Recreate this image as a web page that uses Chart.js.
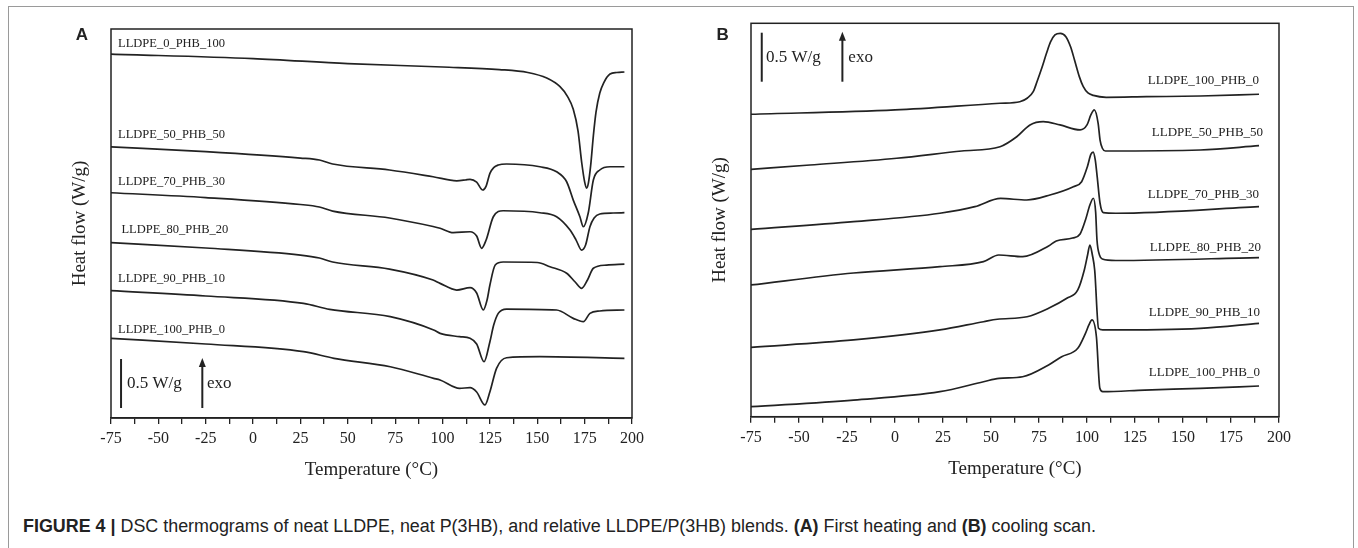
<!DOCTYPE html>
<html>
<head>
<meta charset="utf-8">
<script src="https://cdn.jsdelivr.net/npm/chart.js@4.4.0/dist/chart.umd.min.js"></script>
<style>
  body { margin:0; background:#fff; width:1358px; height:548px; overflow:hidden; position:relative; }
  #frame { position:absolute; left:8px; top:6px; width:1346px; height:600px; border:1px solid #9a9a9a; box-sizing:border-box; }
  #wrapA { position:absolute; left:0; top:0; width:680px; height:500px; }
  #wrapB { position:absolute; left:680px; top:0; width:678px; height:500px; }
  #caption { position:absolute; left:23px; top:516px; line-height:20px; font-family:"Liberation Sans", Arial, sans-serif;
             font-size:18px; color:#222; white-space:nowrap; transform-origin:0 50%; }
  #caption b { font-weight:bold; }
</style>
</head>
<body>
<div id="frame"></div>
<div id="wrapA"><canvas id="chartA" width="680" height="500"></canvas></div>
<div id="wrapB"><canvas id="chartB" width="678" height="500"></canvas></div>
<div id="caption"><b>FIGURE 4 |</b> DSC thermograms of neat LLDPE, neat P(3HB), and relative LLDPE/P(3HB) blends. <b>(A)</b> First heating and <b>(B)</b> cooling scan.</div>

<script>
// ---- panel A : first heating (temperature in C, heat flow in W/g, curves stacked) ----
var tempA_0_100 = [-75, 0, 50, 100, 130, 145, 155, 162, 166, 169, 171.5, 173.5, 175, 176, 177, 178.2, 179.6, 181, 183, 185, 188.4, 192, 196];
var flowA_0_100 = [3.714, 3.668, 3.617, 3.582, 3.556, 3.526, 3.469, 3.381, 3.28, 3.15, 2.93, 2.60, 2.41, 2.347, 2.40, 2.58, 2.88, 3.122, 3.316, 3.418, 3.510, 3.526, 3.531];

var tempA_50_50 = [-75, -25, 25, 35, 42, 72, 95, 107.5, 112, 114.5, 118, 121.2, 123, 125, 127, 129.4, 133.8, 151.4, 160.2, 165.5, 169, 172.5, 174.3, 176.9, 179.6, 183, 188.4, 196];
var flowA_50_50 = [2.768, 2.719, 2.653, 2.633, 2.592, 2.531, 2.462, 2.421, 2.429, 2.436, 2.408, 2.327, 2.367, 2.497, 2.556, 2.582, 2.592, 2.564, 2.513, 2.411, 2.224, 2.054, 1.952, 2.092, 2.429, 2.531, 2.564, 2.564];

var tempA_70_30 = [-75, -25, 25, 35, 42, 72, 95, 98.7, 105.7, 114.5, 118, 120.6, 123, 126.8, 132, 151.4, 160.2, 167.3, 170.5, 173.4, 175.5, 177.8, 180, 183, 190, 196];
var flowA_70_30 = [2.299, 2.250, 2.179, 2.153, 2.112, 2.041, 1.954, 1.936, 1.891, 1.901, 1.857, 1.732, 1.816, 2.054, 2.115, 2.095, 2.054, 1.918, 1.816, 1.714, 1.765, 1.952, 2.041, 2.082, 2.092, 2.095];

var tempA_80_20 = [-75, -25, 25, 35, 42, 72, 95, 98.7, 107.5, 114.5, 118, 121.5, 123.5, 125, 127.8, 132, 150, 156.7, 165.5, 170, 173.4, 176.5, 179.6, 186.6, 196];
var flowA_80_20 = [1.789, 1.735, 1.663, 1.633, 1.592, 1.520, 1.408, 1.374, 1.306, 1.330, 1.276, 1.102, 1.204, 1.357, 1.561, 1.592, 1.587, 1.544, 1.477, 1.388, 1.323, 1.408, 1.528, 1.561, 1.571];

var tempA_90_10 = [-75, -25, 26.6, 40.4, 72.4, 95.3, 98.7, 109, 114.5, 118, 121.9, 125, 127, 129.4, 133.8, 160.2, 169, 174.3, 177.8, 183, 196];
var flowA_90_10 = [1.299, 1.245, 1.170, 1.109, 1.034, 0.898, 0.864, 0.830, 0.813, 0.755, 0.574, 0.779, 0.949, 1.068, 1.112, 1.102, 1.017, 0.983, 1.068, 1.092, 1.102];

var tempA_100_0 = [-75, -25, 26.6, 42.7, 72.4, 95.3, 98.7, 109, 114.5, 118, 122.4, 125, 128.5, 133.8, 151.4, 196];
var flowA_100_0 = [0.813, 0.755, 0.677, 0.609, 0.523, 0.405, 0.388, 0.303, 0.309, 0.265, 0.133, 0.268, 0.507, 0.615, 0.626, 0.609];

// ---- panel B : cooling scan ----
var tempB_100_0top = [-75, 0, 54.7, 65, 69, 72, 74, 76.5, 78.9, 81, 83.3, 86.1, 89, 91.5, 93.5, 96, 98, 100.5, 103.3, 110, 131, 159, 189.6];
var flowB_100_0top = [3.086, 3.130, 3.198, 3.214, 3.252, 3.316, 3.42, 3.56, 3.708, 3.824, 3.895, 3.912, 3.878, 3.772, 3.640, 3.47, 3.37, 3.303, 3.278, 3.259, 3.265, 3.272, 3.290];

var tempB_50_50 = [-75, -44.3, 0.9, 34.8, 54.7, 63.4, 70.3, 77.2, 85.9, 96.4, 100, 102, 103.8, 105.8, 106.8, 108, 109.6, 159, 189.6];
var flowB_50_50 = [2.524, 2.568, 2.637, 2.711, 2.755, 2.857, 2.977, 3.010, 2.977, 2.926, 2.977, 3.079, 3.130, 2.994, 2.823, 2.739, 2.711, 2.721, 2.765];

var tempB_70_30 = [-75, -21.6, 23.4, 41.6, 55, 68.6, 80.7, 92.9, 97.2, 100.2, 102, 103.2, 104.3, 105.3, 106.8, 108.5, 115, 189.6];
var flowB_70_30 = [1.912, 1.990, 2.076, 2.143, 2.227, 2.211, 2.262, 2.347, 2.398, 2.551, 2.676, 2.70, 2.62, 2.45, 2.178, 2.082, 2.076, 2.143];

var tempB_80_20 = [-75, -21.6, 23.4, 46.1, 54, 66.5, 80, 84, 92.5, 96.4, 99.2, 101.5, 103.3, 104.5, 105.2, 106.5, 108, 115, 189.6];
var flowB_80_20 = [1.344, 1.466, 1.531, 1.582, 1.650, 1.633, 1.742, 1.793, 1.823, 1.864, 2.007, 2.160, 2.229, 2.089, 1.803, 1.650, 1.609, 1.594, 1.624];

var tempB_90_10 = [-75, -21.6, 23.4, 46.1, 53.3, 68.8, 80, 89.5, 95.2, 98.6, 100.3, 101.5, 102.8, 104, 106, 108.2, 159, 189.6];
var flowB_90_10 = [0.708, 0.783, 0.885, 0.969, 0.994, 1.020, 1.106, 1.208, 1.293, 1.497, 1.650, 1.752, 1.650, 1.497, 0.902, 0.885, 0.902, 0.953];

var tempB_100_0 = [-75, -21.6, 23.4, 46.1, 54.2, 66.5, 80, 86.8, 95.2, 99.2, 101, 102.6, 104.9, 106.7, 108.2, 130, 159, 189.6];
var flowB_100_0 = [0.102, 0.170, 0.255, 0.357, 0.392, 0.408, 0.528, 0.612, 0.698, 0.851, 0.936, 0.987, 0.816, 0.290, 0.255, 0.272, 0.290, 0.313];

// x axis ticks
var tickMin = -75, tickMax = 200, tickStep = 12.5, labelStep = 25;

// curve names, placed as in the figure (temperature, heat flow)
var labelsA = [
  ["LLDPE_0_PHB_100", -71.3, 3.823],
  ["LLDPE_50_PHB_50", -71.3, 2.888],
  ["LLDPE_70_PHB_30", -71.3, 2.411],
  ["LLDPE_80_PHB_20", -69.5, 1.918],
  ["LLDPE_90_PHB_10", -71.3, 1.426],
  ["LLDPE_100_PHB_0", -71.3, 0.905]
];
var labelsB = [
  ["LLDPE_100_PHB_0", 189.6, 3.426],
  ["LLDPE_50_PHB_50", 191.7, 2.902],
  ["LLDPE_70_PHB_30", 189.6, 2.269],
  ["LLDPE_80_PHB_20", 190.6, 1.724],
  ["LLDPE_90_PHB_10", 190.1, 1.065],
  ["LLDPE_100_PHB_0", 190.1, 0.449]
];

var INK = '#222';
var SERIF = '"Liberation Serif", "Times New Roman", serif';

function toPoints(t, v){
  var out = [];
  for (var i = 0; i < t.length; i++) out.push({x: t[i], y: v[i]});
  return out;
}

function curve(t, v){
  return {
    data: toPoints(t, v),
    borderColor: INK,
    borderWidth: 1.7,
    pointRadius: 0,
    fill: false,
    cubicInterpolationMode: 'monotone'
  };
}

// box, titles, curve names, scale bar and exo arrow
var decoPlugin = {
  id: 'deco',
  afterDraw: function(chart, args, o){
    var ctx = chart.ctx, a = chart.chartArea, x = chart.scales.x, y = chart.scales.y;
    ctx.save();
    ctx.strokeStyle = INK;
    ctx.lineWidth = 1.5;
    ctx.strokeRect(a.left, a.top, a.right - a.left, a.bottom - a.top);

    ctx.fillStyle = INK;
    ctx.textBaseline = 'middle';

    // panel letter
    ctx.font = 'bold 17px "Liberation Sans", Arial, sans-serif';
    ctx.textAlign = 'center';
    ctx.fillText(o.letter, o.letterX, o.letterY);

    // axis titles
    ctx.font = '19px ' + SERIF;
    ctx.fillText('Temperature (\u00B0C)', (a.left + a.right) / 2, a.bottom + 52);
    ctx.save();
    ctx.translate(a.left - 31, (a.top + a.bottom) / 2);
    ctx.rotate(-Math.PI / 2);
    ctx.fillText('Heat flow (W/g)', 0, 0);
    ctx.restore();

    // curve names
    ctx.font = o.labelSize + 'px ' + SERIF;
    ctx.textAlign = o.labelAlign;
    o.labels.forEach(function(l){
      ctx.fillText(l[0], x.getPixelForValue(l[1]), y.getPixelForValue(l[2]));
    });

    // 0.5 W/g bar
    var s = o.bar;
    var yTop = y.getPixelForValue(s.v0 + 0.5), yBot = y.getPixelForValue(s.v0);
    ctx.lineWidth = 2;
    ctx.beginPath();
    var bx = x.getPixelForValue(s.barT);
    ctx.moveTo(bx, yBot); ctx.lineTo(bx, yTop); ctx.stroke();
    ctx.font = '17px ' + SERIF;
    ctx.textAlign = 'left';
    ctx.fillText('0.5 W/g', x.getPixelForValue(s.textT), (yTop + yBot) / 2);

    // exo arrow
    var ax = x.getPixelForValue(s.arrowT);
    ctx.beginPath();
    ctx.moveTo(ax, yBot); ctx.lineTo(ax, yTop + 6); ctx.stroke();
    ctx.beginPath();
    ctx.moveTo(ax, yTop - 1); ctx.lineTo(ax - 3.5, yTop + 8); ctx.lineTo(ax + 3.5, yTop + 8);
    ctx.closePath(); ctx.fill();
    ctx.fillText('exo', x.getPixelForValue(s.exoT), (yTop + yBot) / 2);
    ctx.restore();
  }
};

function makeChart(id, sets, yMax, pad, deco){
  var ctx = document.getElementById(id);
  return new Chart(ctx, {
    type: 'line',
    data: { datasets: sets },
    plugins: [decoPlugin],
    options: {
      responsive: false,
      animation: false,
      events: [],
      layout: { padding: pad },
      plugins: { legend: { display: false }, tooltip: { enabled: false }, deco: deco },
      scales: {
        x: {
          type: 'linear', min: tickMin, max: tickMax,
          afterFit: function(s){ s.height = 30; },
          border: { display: true, color: INK, width: 1.5 },
          grid: { drawOnChartArea: false, drawTicks: true, tickLength: 6, color: INK, lineWidth: 1.3 },
          ticks: {
            stepSize: tickStep, autoSkip: false, maxRotation: 0, padding: 5, color: INK,
            font: { family: SERIF, size: 16 },
            callback: function(v){ return v % labelStep === 0 ? String(v) : ''; }
          }
        },
        y: { display: false, min: 0, max: yMax }
      }
    }
  });
}

makeChart('chartA', [
  curve(tempA_0_100, flowA_0_100),
  curve(tempA_50_50, flowA_50_50),
  curve(tempA_70_30, flowA_70_30),
  curve(tempA_80_20, flowA_80_20),
  curve(tempA_90_10, flowA_90_10),
  curve(tempA_100_0, flowA_100_0)
], 3.97, { left: 111, right: 48, top: 29, bottom: 52 }, {
  letter: 'A', letterX: 82, letterY: 35,
  labels: labelsA, labelAlign: 'left', labelSize: 12.5,
  bar: { v0: 0.102, barT: -69.7, textT: -66.6, arrowT: -26.8, exoT: -24.3 }
});

makeChart('chartB', [
  curve(tempB_100_0top, flowB_100_0top),
  curve(tempB_50_50, flowB_50_50),
  curve(tempB_70_30, flowB_70_30),
  curve(tempB_80_20, flowB_80_20),
  curve(tempB_90_10, flowB_90_10),
  curve(tempB_100_0, flowB_100_0)
], 4.014, { left: 71, right: 79, top: 23.3, bottom: 53.3 }, {
  letter: 'B', letterX: 42.7, letterY: 35,
  labels: labelsB, labelAlign: 'right', labelSize: 13,
  bar: { v0: 3.418, barT: -69.4, textT: -67.2, arrowT: -27.4, exoT: -24.3 }
});

// caption is a little condensed in the original
var cap = document.getElementById('caption');
var w = cap.getBoundingClientRect().width;
cap.style.transform = 'scaleX(' + (1073 / w) + ')';
</script>
</body>
</html>
